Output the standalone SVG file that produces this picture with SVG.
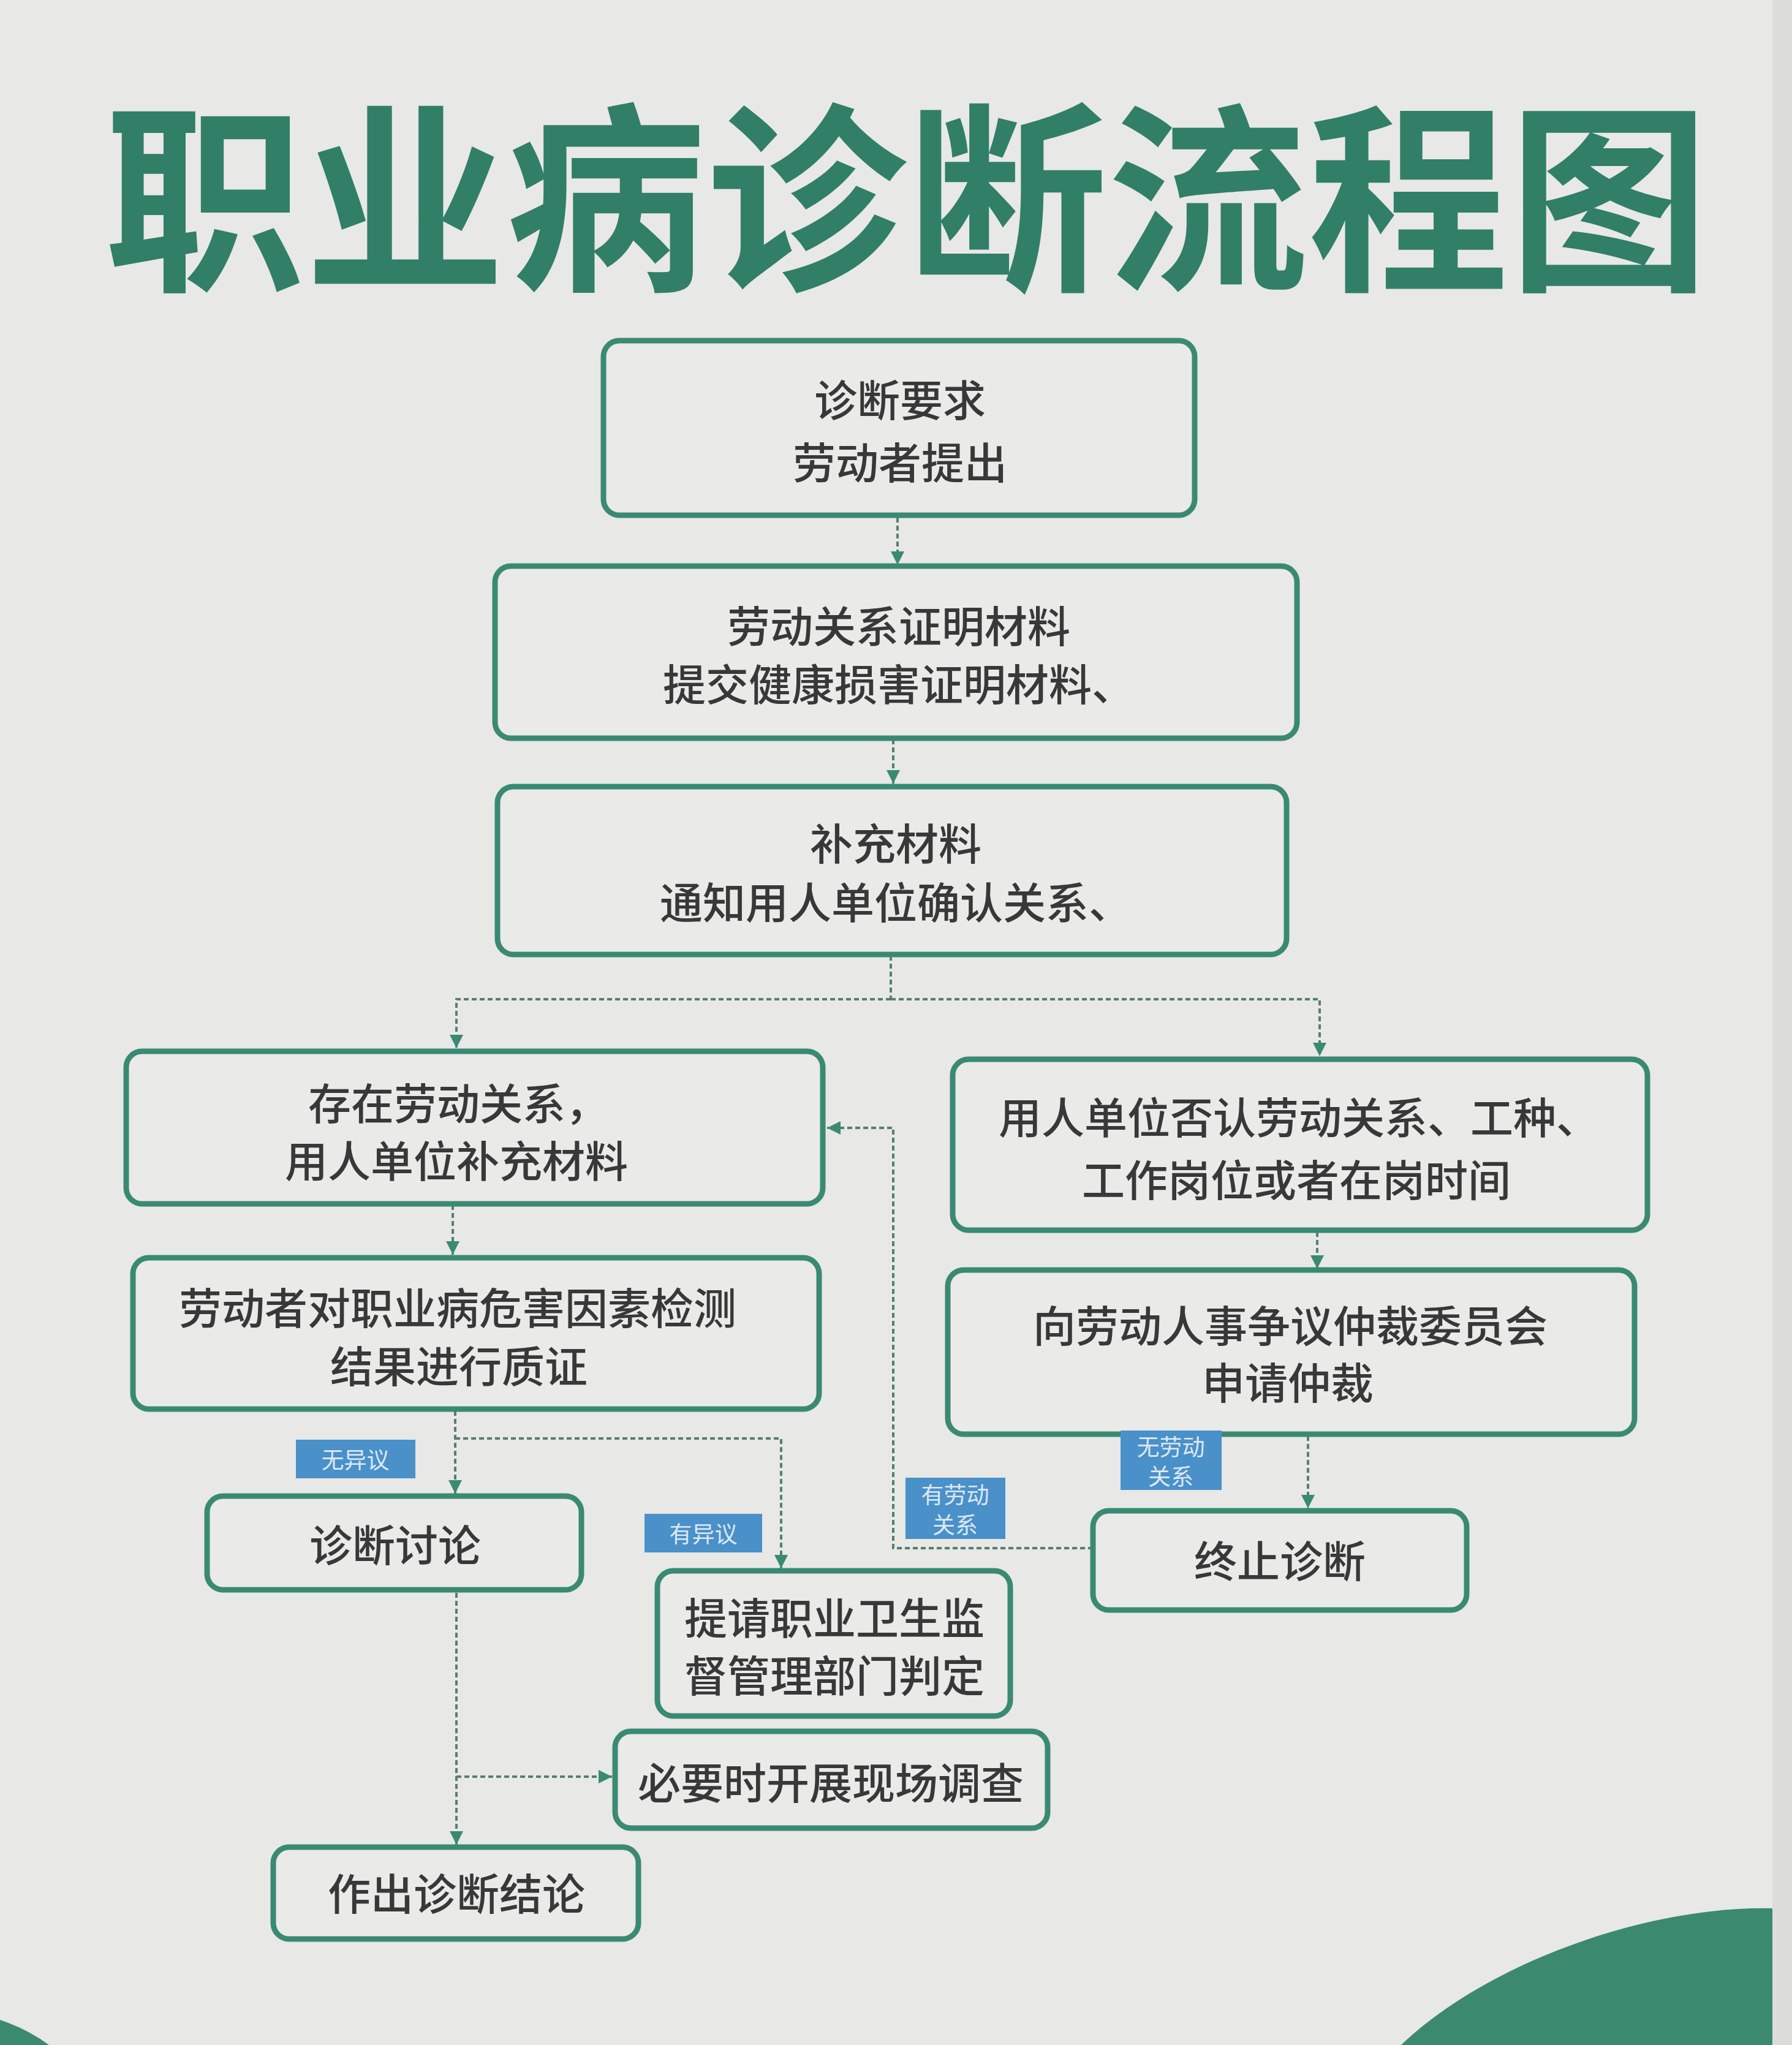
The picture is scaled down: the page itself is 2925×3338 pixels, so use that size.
<svg xmlns="http://www.w3.org/2000/svg" width="2925" height="3338" viewBox="0 0 2925 3338">
<style>
.bg{fill:#e8e8e6}
.box{fill:#eaeae8;stroke:#3a8a73;stroke-width:9}
.t{font-family:"Noto Sans CJK SC","Noto Sans",sans-serif;font-size:70px;font-weight:500;fill:#383838;text-anchor:middle;dominant-baseline:central}
.title{font-family:"Noto Sans CJK SC","Noto Sans",sans-serif;font-size:330px;font-weight:700;fill:#317f67;dominant-baseline:central}
.lab{fill:#4a90c9}
.lt{font-family:"Noto Sans CJK SC","Noto Sans",sans-serif;font-size:37px;fill:#dce8f3;text-anchor:middle;dominant-baseline:central}
.c{fill:none;stroke:#557f72;stroke-width:4;stroke-dasharray:8 5}
.green{fill:#3b8a70}
</style>
<defs>
<marker id="arr" viewBox="0 0 10 10" refX="10" refY="5" markerWidth="22" markerHeight="22" markerUnits="userSpaceOnUse" orient="auto">
<path d="M0,0 L10,5 L0,10 z" fill="#3a8a73"/>
</marker>
</defs>
<rect class="bg" x="0" y="0" width="2925" height="3338"/>
<rect x="2893" y="0" width="32" height="3338" fill="#dcdcda"/>
<path class="green" d="M2287,3338 C2420,3210 2680,3110 2893,3115 L2893,3338 Z"/>
<path class="green" d="M0,3297 Q45,3312 80,3338 L0,3338 Z"/>

<text id="title" class="title" x="170" y="305" textLength="2620" lengthAdjust="spacingAndGlyphs">职业病诊断流程图</text>

<g id="connectors">
<path class="c" d="M1465,845 V922" marker-end="url(#arr)"/>
<path class="c" d="M1458,1207 V1279" marker-end="url(#arr)"/>
<path class="c" d="M1454,1560 V1631"/>
<path class="c" d="M1454,1631 H745 V1711" marker-end="url(#arr)"/>
<path class="c" d="M1454,1631 H2154 V1724" marker-end="url(#arr)"/>
<path class="c" d="M739,1967 V2048" marker-end="url(#arr)"/>
<path class="c" d="M2150,2011 V2071" marker-end="url(#arr)"/>
<path class="c" d="M743,2303 V2438" marker-end="url(#arr)"/>
<path class="c" d="M743,2348 H1275 V2560" marker-end="url(#arr)"/>
<path class="c" d="M2135,2344 V2462" marker-end="url(#arr)"/>
<path class="c" d="M1784,2527 H1458 V1841 H1350" marker-end="url(#arr)"/>
<path class="c" d="M745,2600 V3011" marker-end="url(#arr)"/>
<path class="c" d="M745,2900 H999" marker-end="url(#arr)"/>
</g>

<g id="n1"><rect class="box" x="985" y="556" width="965" height="285" rx="26"/>
<text class="t" x="1469" y="649">诊断要求</text><text class="t" x="1469" y="751">劳动者提出</text></g>

<g id="n2"><rect class="box" x="808" y="924" width="1309" height="281" rx="26"/>
<text class="t" x="1467" y="1018">劳动关系证明材料</text><text class="t" x="1467" y="1113">提交健康损害证明材料、</text></g>

<g id="n3"><rect class="box" x="812" y="1284" width="1288" height="274" rx="26"/>
<text class="t" x="1462" y="1373">补充材料</text><text class="t" x="1462" y="1469">通知用人单位确认关系、</text></g>

<g id="n4"><rect class="box" x="206" y="1716" width="1137" height="249" rx="26"/>
<text class="t" x="748" y="1797">存在劳动关系，</text><text class="t" x="745" y="1891">用人单位补充材料</text></g>

<g id="n5"><rect class="box" x="1555" y="1729" width="1134" height="279" rx="26"/>
<text class="t" x="2120" y="1820">用人单位否认劳动关系、工种、</text><text class="t" x="2116" y="1922">工作岗位或者在岗时间</text></g>

<g id="n6"><rect class="box" x="217" y="2053" width="1120" height="247" rx="26"/>
<text class="t" x="747" y="2131">劳动者对职业病危害因素检测</text><text class="t" x="749" y="2226">结果进行质证</text></g>

<g id="n7"><rect class="box" x="1547" y="2073" width="1121" height="268" rx="26"/>
<text class="t" x="2106" y="2160">向劳动人事争议仲裁委员会</text><text class="t" x="2102" y="2253">申请仲裁</text></g>

<g id="n8"><rect class="box" x="338" y="2442" width="611" height="153" rx="26"/>
<text class="t" x="645" y="2518">诊断讨论</text></g>

<g id="n9"><rect class="box" x="1073" y="2564" width="576" height="237" rx="26"/>
<text class="t" x="1362" y="2637">提请职业卫生监</text><text class="t" x="1362" y="2731">督管理部门判定</text></g>

<g id="n10"><rect class="box" x="1784" y="2466" width="610" height="162" rx="26"/>
<text class="t" x="2089" y="2544">终止诊断</text></g>

<g id="n11"><rect class="box" x="1004" y="2826" width="706" height="158" rx="26"/>
<text class="t" x="1356" y="2906">必要时开展现场调查</text></g>

<g id="n12"><rect class="box" x="446" y="3015" width="596" height="150" rx="26"/>
<text class="t" x="745" y="3087">作出诊断结论</text></g>

<g id="l1"><rect class="lab" x="483" y="2350" width="195" height="63"/><text class="lt" x="580" y="2381">无异议</text></g>
<g id="l2"><rect class="lab" x="1052" y="2471" width="192" height="63"/><text class="lt" x="1148" y="2502">有异议</text></g>
<g id="l3"><rect class="lab" x="1478" y="2412" width="163" height="100"/><text class="lt" x="1559" y="2438">有劳动</text><text class="lt" x="1559" y="2487">关系</text></g>
<g id="l4"><rect class="lab" x="1829" y="2335" width="165" height="97"/><text class="lt" x="1911" y="2360">无劳动</text><text class="lt" x="1911" y="2408">关系</text></g>
</svg>
